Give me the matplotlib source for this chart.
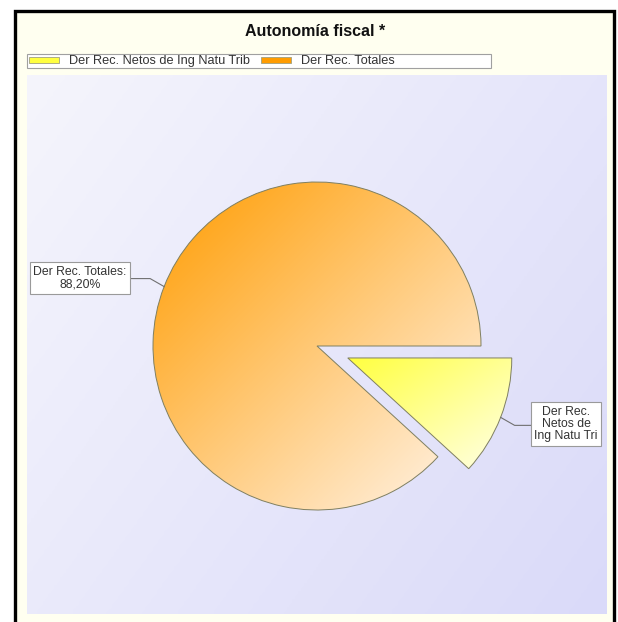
import numpy as np
import matplotlib
matplotlib.use('Agg')
import matplotlib.pyplot as plt
from matplotlib.colors import LinearSegmentedColormap
from matplotlib.patches import Rectangle

plt.rcParams['font.family'] = ['Liberation Sans', 'DejaVu Sans']

# data
title = 'Autonomía fiscal *'
categories = ['Der Rec. Netos de Ing Natu Trib', 'Der Rec. Totales']
values = [11.80, 88.20]
slice_labels = ['Der Rec.\nNetos de\nIng Natu Tri', 'Der Rec. Totales:\n' + '{:.2f}%'.format(88.20).replace('.', ',')]

grad_colors = [('#FFFF40', '#FFFFE8'), ('#FF9C00', '#FFF6EE')]

fig = plt.figure(figsize=(6.18, 6.22), dpi=100, facecolor='white')
ax = fig.add_axes([0, 0, 1, 1])

# outer cream panel with black frame
ax.add_patch(Rectangle((14.5, 11), 599, 620, facecolor='#FFFFF0', edgecolor='black', lw=2.4, zorder=0))

# plot area lavender gradient
gy, gx = np.mgrid[0:1:200j, 0:1:200j]
bg = (gx * 0.6 + gy * 0.4)
bg_cmap = LinearSegmentedColormap.from_list('bg', ['#F5F5FC', '#DADAF9'])
ax.imshow(bg, extent=(27, 607, 614, 75), cmap=bg_cmap, aspect='auto', zorder=1, interpolation='bilinear')

# pie (pixel coordinates, explode given in pixels)
wedges, _ = ax.pie(values, center=(317, 346), radius=164, startangle=0, explode=[33, 0],
                   frame=True, wedgeprops=dict(edgecolor='#7F7F60', linewidth=0.7))
for w, (c0, c1) in zip(wedges, grad_colors):
    w.set_zorder(3)
    w.set_facecolor('none')
    cx, cy = w.center
    r = w.r
    x0, x1 = cx - r, cx + r
    y0, y1 = cy - r, cy + r
    if w.theta2 - w.theta1 < 180:
        verts = w.get_path().vertices
        x0, x1 = verts[:, 0].min(), verts[:, 0].max()
        y0, y1 = verts[:, 1].min(), verts[:, 1].max()
    g = (gx + gy) / 2
    cm = LinearSegmentedColormap.from_list('g', [c0, c1])
    im = ax.imshow(g, extent=(x0, x1, y1, y0), cmap=cm, aspect='auto', zorder=2, interpolation='bilinear')
    im.set_clip_path(w)

# slice labels with leader lines
box_pos = [(566, 424), (80, 278)]
for w, txt, (bx, by) in zip(wedges, slice_labels, box_pos):
    mid = np.deg2rad((w.theta1 + w.theta2) / 2)
    cx, cy = w.center
    axp = cx + w.r * np.cos(mid)
    ayp = cy + w.r * np.sin(mid)
    sx = np.sign(np.cos(mid))
    sy = np.sign(np.sin(mid))
    ex, ey = axp + 14 * sx, ayp + 8 * sy
    ax.plot([axp, ex, bx], [ayp, ey, ey], color='#707070', lw=0.8, zorder=4)
    ax.text(bx, by, txt, ha='center', va='center', fontsize=8.8, linespacing=1.02, color='#333333', zorder=5,
            bbox=dict(boxstyle='square,pad=0.28', facecolor='white', edgecolor='#9A9A9A', lw=0.8))

# title
ax.text(315, 32, title, ha='center', va='center', fontsize=11.5, fontweight='bold', color='#111111', zorder=5)

# legend
ax.add_patch(Rectangle((27, 54), 464, 14, facecolor='white', edgecolor='#A0A0A0', lw=0.8, zorder=4))
leg_x = [(29, 69), (261, 301)]
for (sxp, tx), cat, (c0, c1) in zip(leg_x, categories, grad_colors):
    ax.add_patch(Rectangle((sxp, 57), 30, 6, facecolor=c0, edgecolor='#A0A080', lw=0.6, zorder=5))
    ax.text(tx, 61, cat, ha='left', va='center', fontsize=9.2, color='#333333', zorder=5)

ax.set_xlim(0, 618)
ax.set_ylim(622, 0)
ax.axis('off')
fig.savefig('out.png', dpi=100, facecolor='white')
